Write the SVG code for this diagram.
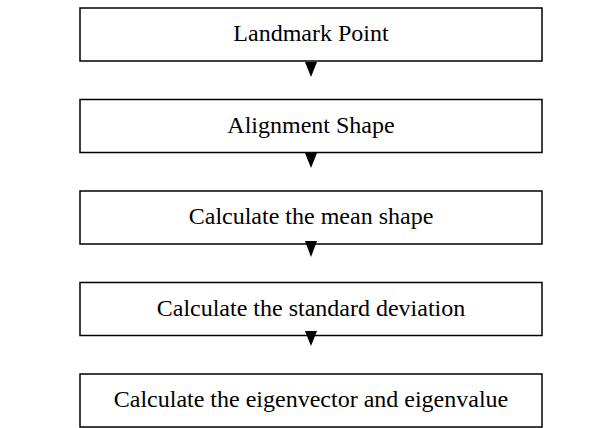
<svg xmlns="http://www.w3.org/2000/svg" width="615" height="428" viewBox="0 0 615 428">
<style>
.box{fill:#fff;stroke:#000;stroke-width:1.5}
.lbl{font-family:"Liberation Serif","Times New Roman",serif;font-size:24px;fill:#000;text-anchor:middle}
.arr{fill:#000}
</style>
<rect width="615" height="428" fill="#fff"/>
<g id="n1"><rect class="box" x="80" y="8" width="462" height="53"/><text class="lbl" x="311" y="41">Landmark Point</text></g>
<g id="n2"><rect class="box" x="80" y="99.5" width="462" height="53"/><text class="lbl" x="311" y="132.5">Alignment Shape</text></g>
<g id="n3"><rect class="box" x="80" y="191" width="462" height="53"/><text class="lbl" x="311" y="224">Calculate the mean shape</text></g>
<g id="n4"><rect class="box" x="80" y="282.5" width="462" height="53"/><text class="lbl" x="311" y="315.5">Calculate the standard deviation</text></g>
<g id="n5"><rect class="box" x="80" y="374" width="462" height="53"/><text class="lbl" x="311" y="407">Calculate the eigenvector and eigenvalue</text></g>
<g id="connectors">
<polygon class="arr" points="305,62 317,62 311,77"/>
<polygon class="arr" points="305,153 317,153 311,168"/>
<polygon class="arr" points="305,241 317,241 311,257"/>
<polygon class="arr" points="305,331 317,331 311,346"/>
</g>
</svg>
